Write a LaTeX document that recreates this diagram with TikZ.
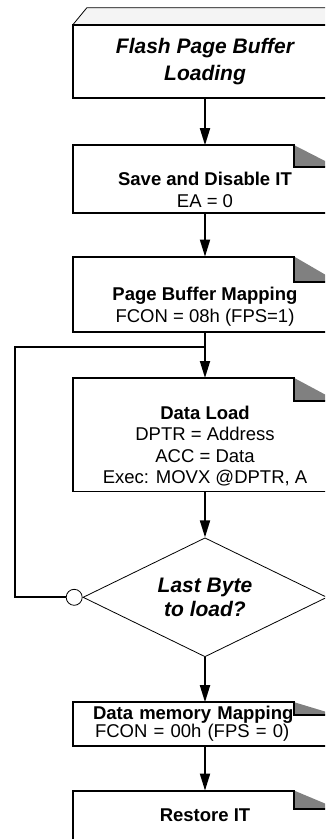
\documentclass[tikz,border=0pt]{standalone}
\usepackage{fontspec}
\setmainfont{Liberation Sans}
\usetikzlibrary{arrows.meta, positioning, shapes.geometric}

\newcommand{\stepfont}{\fontsize{18.5pt}{21.5pt}\selectfont}
\newcommand{\tightfont}{\fontsize{18.5pt}{17pt}\selectfont}
\newcommand{\headfont}{\fontsize{21pt}{27pt}\selectfont\bfseries\itshape}
\newcommand{\askfont}{\fontsize{21pt}{24pt}\selectfont\bfseries\itshape}

\definecolor{flapgray}{RGB}{128,128,128}
\definecolor{lidgray}{RGB}{244,244,244}

\tikzset{
  boxline/.style ={line width=1.8pt},
  lid/.style     ={line width=0.8pt, fill=lidgray},
  headbox/.style ={align=center, minimum width=264pt, minimum height=73pt,
                   inner sep=0pt, font=\headfont},
  stepbox/.style ={align=center, minimum width=264pt, inner sep=0pt,
                   font=\stepfont},
  askbox/.style  ={diamond, draw, line width=0.8pt, aspect=2, align=center,
                   minimum width=244pt, minimum height=119pt, inner sep=0pt,
                   font=\askfont},
  joinring/.style={circle, draw, line width=0.8pt, fill=white,
                   minimum size=16pt, inner sep=0pt},
  arr/.style     ={-{Triangle[length=17pt, width=10pt]}, line width=1.8pt},
}

% box outline with the grey folded corner: #1 node, #2 flap depth, #3 lift of top edge
\newcommand{\dogear}[3]{%
  \fill[flapgray] ([shift={(-43pt,#3pt)}]#1.north east) -- ++(0pt,-#2pt)
    -- ++(43pt,0pt) -- cycle;
  \draw[boxline] ([yshift=#3pt]#1.north west) -- ([shift={(-43pt,#3pt)}]#1.north east)
    -- ++(0pt,-#2pt) -| (#1.south east) -- (#1.south west) -- cycle;
}

\begin{document}
\begin{tikzpicture}[x=1pt, y=-1pt]
  \useasboundingbox (0,0) rectangle (325,839);
  \clip (0,0) rectangle (325,839);

  \node[headbox] (flash) at (205,61.5) {Flash Page Buffer\\Loading};
  \node[stepbox, minimum height=45pt, below=69pt of flash] (save)
       {\textbf{Save and Disable IT}\\EA = 0};
  \node[stepbox, minimum height=50pt, below=69pt of save] (page)
       {\textbf{Page Buffer Mapping}\\FCON = 08h (FPS=1)};
  \node[stepbox, minimum height=90pt, below=69pt of page] (load)
       {\textbf{Data Load}\\DPTR = Address\\ACC = Data\\Exec: MOVX @DPTR, A};
  \node[askbox, below=46pt of load] (last) {Last Byte\\to load?};
  \node[joinring, left=0pt of last] (ring) {};
  \node[stepbox, font=\tightfont, align=left, text width=224pt, minimum height=43pt,
        below=45pt of last] (mem)
       {\textbf{Data memory Mapping}\\\hspace*{2pt}FCON = 00h (FPS = 0)};
  \node[stepbox, text depth=40pt, below=63pt of mem] (restore) {\textbf{Restore IT}};

  % boxes
  \draw[lid] (flash.north west) -- ++(14pt,17pt) -- ([yshift=17pt]flash.north east)
    -- (flash.north east);
  \draw[boxline] (flash.south west) rectangle (flash.north east);
  \dogear{save}{22}{22}
  \dogear{page}{25}{25}
  \dogear{load}{23}{23}
  \dogear{mem}{13}{0}
  \dogear{restore}{18}{18}

  % flow
  \draw[arr, shorten >=22pt] (flash) -- (save);
  \draw[arr, shorten >=25pt] (save) -- (page);
  \draw[arr, shorten >=23pt] (page) -- (load);
  \draw[arr] (load) -- (last);
  \draw[arr] (last) -- (mem);
  \draw[arr, shorten >=18pt] (mem) -- (restore);

  % loop back
  \coordinate (back) at (15,347);
  \draw[boxline] (ring) -| (back) -- (back -| load.north);
\end{tikzpicture}
\end{document}
